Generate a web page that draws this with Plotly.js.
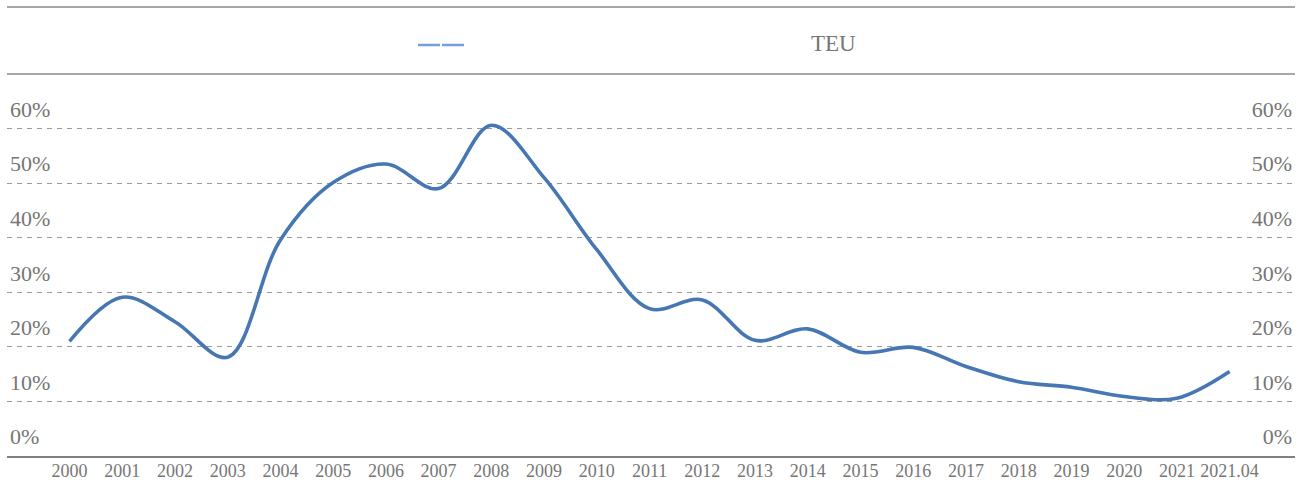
<!DOCTYPE html>
<html>
<head>
<meta charset="utf-8">
<script src="https://cdn.plot.ly/plotly-3.0.1.min.js"></script>
<style>
  html, body { margin: 0; padding: 0; background: #ffffff; }
  #chart { width: 1307px; height: 486px; }
</style>
</head>
<body>
<div id="chart"></div>
<script>
// Categories (x-axis tick labels)
const years = ['2000','2001','2002','2003','2004','2005','2006','2007','2008','2009','2010',
               '2011','2012','2013','2014','2015','2016','2017','2018','2019','2020','2021','2021.04'];
// Series values (%)
const teuShare = [21.0, 29.1, 24.6, 18.1, 39.6, 50.1, 53.5, 49.0, 60.6, 51.0, 37.8,
                  27.0, 28.6, 21.2, 23.3, 19.0, 19.9, 16.4, 13.6, 12.6, 10.9, 10.6, 15.5];
// Y tick values (%)
const yTicks = [0, 10, 20, 30, 40, 50, 60];
const yTickText = yTicks.map(v => v + '%');
// Legend text
const legendLabel = 'TEU';

const FONT = '"Liberation Serif", "Times New Roman", serif';
const GRAY = '#767676';

const traces = [
  {
    type: 'scatter',
    mode: 'lines',
    x: years,
    y: teuShare,
    line: { color: '#4677b3', width: 3.6, shape: 'spline', smoothing: 1 },
    showlegend: false,
    hoverinfo: 'x+y'
  },
  {
    type: 'scatter',
    mode: 'lines',
    x: years,
    y: teuShare,
    yaxis: 'y2',
    line: { color: 'rgba(0,0,0,0)', width: 0 },
    showlegend: false,
    hoverinfo: 'skip'
  }
];

const W = 1288, H = 382, L = 7, T = 74;
const px = x => (x - L) / W;
const py = y => 1 + (T - y) / H;

const layout = {
  width: 1307,
  height: 486,
  margin: { l: 7, r: 12, t: 74, b: 30 },
  paper_bgcolor: '#ffffff',
  plot_bgcolor: '#ffffff',
  font: { family: FONT, color: GRAY },
  showlegend: false,
  xaxis: {
    type: 'category',
    range: [-1.185, 23.24],
    showgrid: false,
    zeroline: false,
    showline: true,
    linecolor: '#808080',
    linewidth: 1.6,
    ticks: '',
    ticklabelstandoff: -2,
    tickfont: { family: FONT, size: 18, color: GRAY },
    fixedrange: true
  },
  yaxis: {
    range: [0, 70],
    tickvals: yTicks,
    ticktext: yTickText,
    showgrid: true,
    gridcolor: '#9a9a9a',
    gridwidth: 1,
    griddash: '5px,5px',
    zeroline: false,
    showline: false,
    ticks: '',
    ticklabelposition: 'inside top',
    ticklabelstandoff: 0,
    ticklabelshift: -4,
    tickfont: { family: FONT, size: 22, color: GRAY },
    fixedrange: true
  },
  yaxis2: {
    overlaying: 'y',
    side: 'right',
    range: [0, 70],
    tickvals: yTicks,
    ticktext: yTickText,
    showgrid: false,
    zeroline: false,
    showline: false,
    ticks: '',
    ticklabelposition: 'inside top',
    ticklabelstandoff: 0,
    ticklabelshift: -4,
    tickfont: { family: FONT, size: 22, color: GRAY },
    fixedrange: true
  },
  shapes: [
    { type: 'line', xref: 'paper', yref: 'paper', x0: 0, x1: 1, y0: 1, y1: 1,
      line: { color: '#8a8a8a', width: 1.6 } },
    { type: 'line', xref: 'paper', yref: 'paper', x0: 0, x1: 1, y0: py(7), y1: py(7),
      line: { color: '#8a8a8a', width: 1.6 } },
    // legend mark (two short strokes)
    { type: 'line', xref: 'paper', yref: 'paper', x0: px(418), x1: px(440), y0: py(45), y1: py(45),
      line: { color: '#73a0d6', width: 2.5 } },
    { type: 'line', xref: 'paper', yref: 'paper', x0: px(442), x1: px(464), y0: py(45), y1: py(45),
      line: { color: '#73a0d6', width: 2.5 } }
  ],
  annotations: [
    { xref: 'paper', yref: 'paper', x: px(833), y: py(43),
      text: legendLabel, showarrow: false, xanchor: 'center', yanchor: 'middle',
      font: { family: FONT, size: 23, color: GRAY } }
  ]
};

Plotly.newPlot('chart', traces, layout, { displayModeBar: false, staticPlot: true });
</script>
</body>
</html>
